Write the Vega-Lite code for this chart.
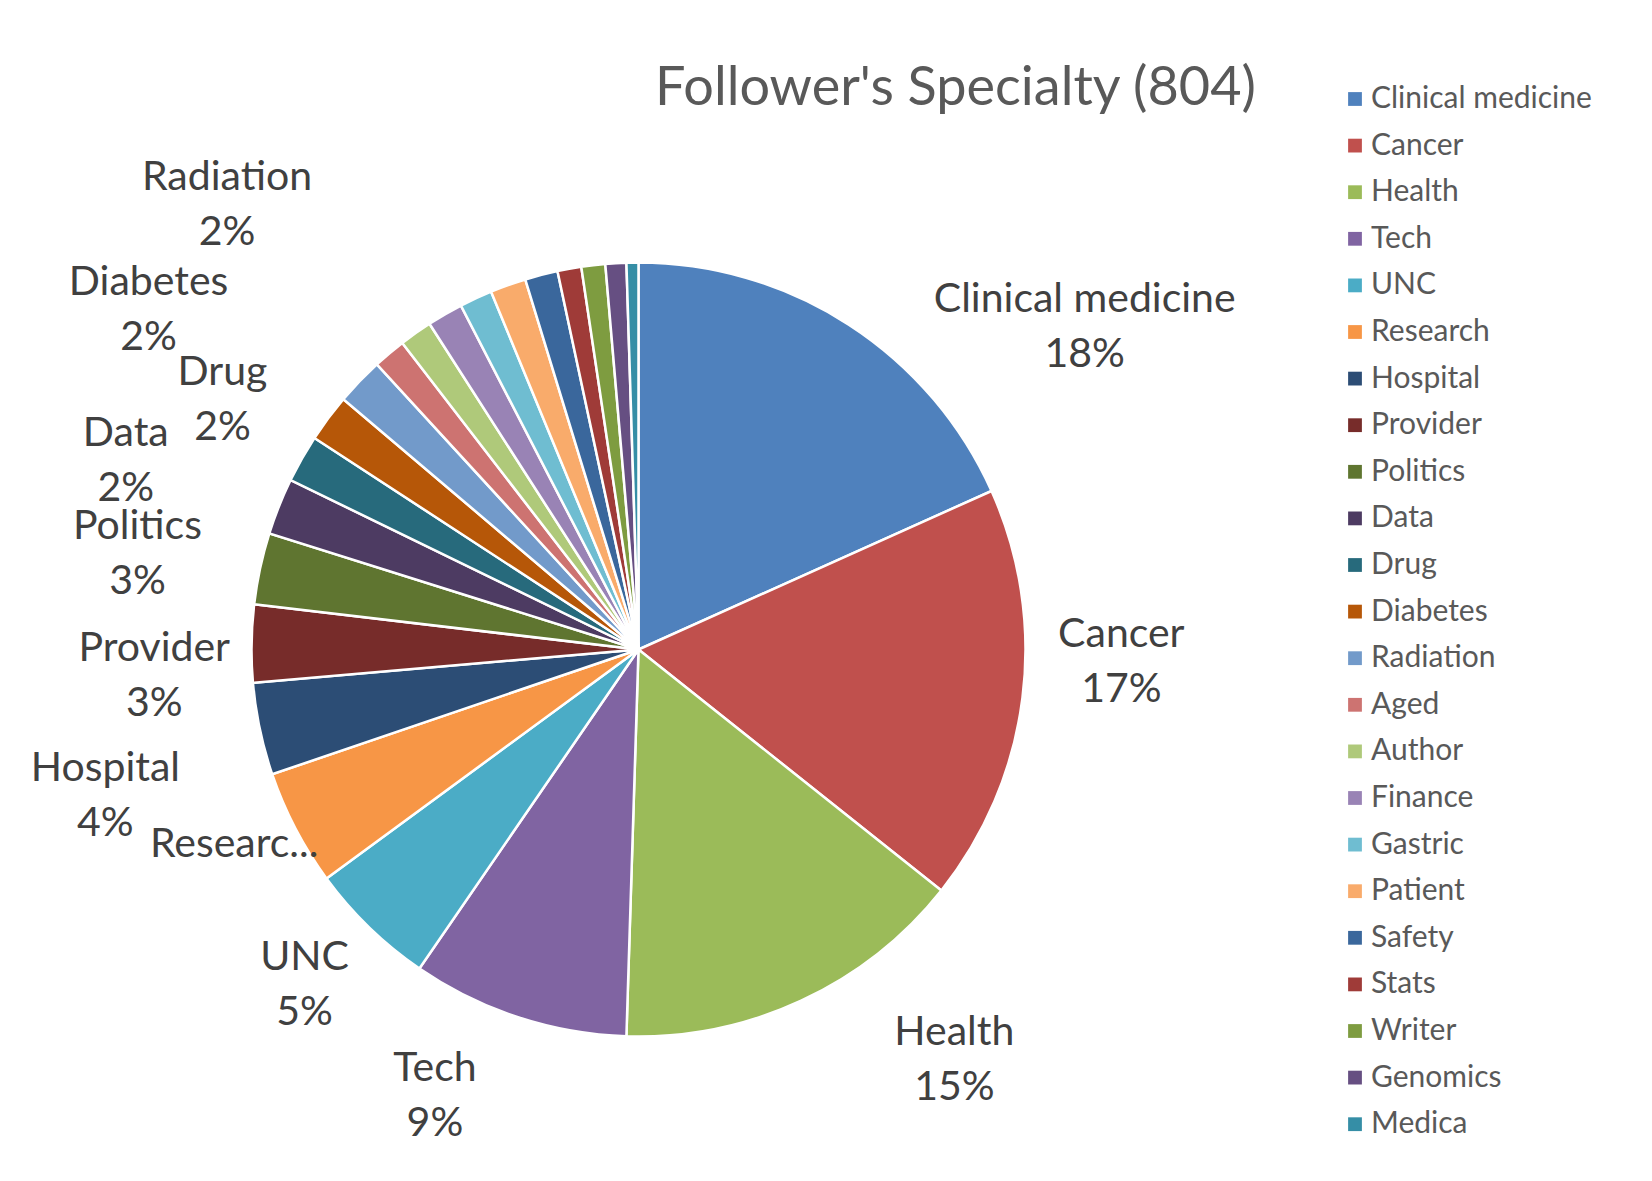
{
  "$schema": "https://vega.github.io/schema/vega-lite/v6.json",
  "width": 1277,
  "height": 1063,
  "autosize": {"type": "none"},
  "padding": {"left": 0, "top": 118, "right": 375, "bottom": 0},
  "background": "white",
  "title": {
    "text": "Follower's Specialty (804)",
    "font": "Lato",
    "fontSize": 54,
    "fontWeight": "normal",
    "color": "#595959",
    "anchor": "middle",
    "frame": "group",
    "dx": 317,
    "dy": 130,
    "offset": 10
  },
  "data": {
    "values": [
      {"category": "Clinical medicine", "count": 147},
      {"category": "Cancer", "count": 140},
      {"category": "Health", "count": 119},
      {"category": "Tech", "count": 73},
      {"category": "UNC", "count": 43},
      {"category": "Research", "count": 39},
      {"category": "Hospital", "count": 31},
      {"category": "Provider", "count": 26},
      {"category": "Politics", "count": 24},
      {"category": "Data", "count": 19},
      {"category": "Drug", "count": 16},
      {"category": "Diabetes", "count": 16},
      {"category": "Radiation", "count": 16},
      {"category": "Aged", "count": 11},
      {"category": "Author", "count": 11},
      {"category": "Finance", "count": 12},
      {"category": "Gastric", "count": 11},
      {"category": "Patient", "count": 12},
      {"category": "Safety", "count": 11},
      {"category": "Stats", "count": 8},
      {"category": "Writer", "count": 8},
      {"category": "Genomics", "count": 7},
      {"category": "Medica", "count": 4}
    ]
  },
  "transform": [
    {"window": [{"op": "row_number", "as": "idx"}]},
    {"joinaggregate": [{"op": "sum", "field": "count", "as": "total"}]},
    {"calculate": "datum.category + '\\n' + format(datum.count / datum.total, '.0%')", "as": "label"},
    {"calculate": "slice(datum.category, 0, 7) + '...'", "as": "short"}
  ],
  "encoding": {
    "theta": {"field": "count", "type": "quantitative", "stack": true},
    "order": {"field": "idx", "type": "quantitative"}
  },
  "layer": [
    {
      "mark": {"type": "arc", "outerRadius": 387, "stroke": "white", "strokeWidth": 2.5},
      "encoding": {
        "color": {
          "field": "category",
          "type": "nominal",
          "scale": {
            "domain": ["Clinical medicine", "Cancer", "Health", "Tech", "UNC", "Research", "Hospital", "Provider", "Politics", "Data", "Drug", "Diabetes", "Radiation", "Aged", "Author", "Finance", "Gastric", "Patient", "Safety", "Stats", "Writer", "Genomics", "Medica"],
            "range": ["#4F81BD", "#C0504D", "#9BBB59", "#8064A2", "#4BACC6", "#F79646", "#2C4D75", "#772C2A", "#5F7530", "#4D3B62", "#276A7C", "#B65708", "#729ACA", "#CD7371", "#AFC97A", "#9983B5", "#6FBDD1", "#F9AB6B", "#3A679C", "#9F3B38", "#7E9C40", "#664F82", "#358EA6"]
          },
          "legend": {
            "orient": "none",
            "legendX": 1340,
            "legendY": -34,
            "title": null,
            "symbolType": "square",
            "symbolSize": 190,
            "symbolStrokeWidth": 0,
            "labelFont": "Lato",
            "labelFontSize": 30,
            "labelColor": "#595959",
            "labelOffset": 1,
            "labelLimit": 400,
            "rowPadding": 16.6,
            "padding": 0
          }
        }
      }
    },
    {
      "mark": {"type": "text", "radius": 550, "thetaOffset": 0.372, "dy": -27.5, "font": "Lato", "fontSize": 41, "lineBreak": "\n", "lineHeight": 55, "align": "center", "baseline": "middle", "color": "#404040"},
      "encoding": {"text": {"condition": {"test": "datum.category === 'Clinical medicine'", "field": "label", "type": "nominal"}, "value": ""}}
    },
    {
      "mark": {"type": "text", "radius": 483, "thetaOffset": -0.099, "dy": -27.5, "font": "Lato", "fontSize": 41, "lineBreak": "\n", "lineHeight": 55, "align": "center", "baseline": "middle", "color": "#404040"},
      "encoding": {"text": {"condition": {"test": "datum.category === 'Cancer'", "field": "label", "type": "nominal"}, "value": ""}}
    },
    {
      "mark": {"type": "text", "radius": 518, "thetaOffset": -0.222, "dy": -27.5, "font": "Lato", "fontSize": 41, "lineBreak": "\n", "lineHeight": 55, "align": "center", "baseline": "middle", "color": "#404040"},
      "encoding": {"text": {"condition": {"test": "datum.category === 'Health'", "field": "label", "type": "nominal"}, "value": ""}}
    },
    {
      "mark": {"type": "text", "radius": 491, "thetaOffset": 0.111, "dy": -27.5, "font": "Lato", "fontSize": 41, "lineBreak": "\n", "lineHeight": 55, "align": "center", "baseline": "middle", "color": "#404040"},
      "encoding": {"text": {"condition": {"test": "datum.category === 'Tech'", "field": "label", "type": "nominal"}, "value": ""}}
    },
    {
      "mark": {"type": "text", "radius": 474, "thetaOffset": 0.012, "dy": -27.5, "font": "Lato", "fontSize": 41, "lineBreak": "\n", "lineHeight": 55, "align": "center", "baseline": "middle", "color": "#404040"},
      "encoding": {"text": {"condition": {"test": "datum.category === 'UNC'", "field": "label", "type": "nominal"}, "value": ""}}
    },
    {
      "mark": {"type": "text", "radius": 553, "thetaOffset": -0.062, "dy": -27.5, "font": "Lato", "fontSize": 41, "lineBreak": "\n", "lineHeight": 55, "align": "center", "baseline": "middle", "color": "#404040"},
      "encoding": {"text": {"condition": {"test": "datum.category === 'Hospital'", "field": "label", "type": "nominal"}, "value": ""}}
    },
    {
      "mark": {"type": "text", "radius": 485, "thetaOffset": -0.071, "dy": -27.5, "font": "Lato", "fontSize": 41, "lineBreak": "\n", "lineHeight": 55, "align": "center", "baseline": "middle", "color": "#404040"},
      "encoding": {"text": {"condition": {"test": "datum.category === 'Provider'", "field": "label", "type": "nominal"}, "value": ""}}
    },
    {
      "mark": {"type": "text", "radius": 510, "thetaOffset": -0.023, "dy": -27.5, "font": "Lato", "fontSize": 41, "lineBreak": "\n", "lineHeight": 55, "align": "center", "baseline": "middle", "color": "#404040"},
      "encoding": {"text": {"condition": {"test": "datum.category === 'Politics'", "field": "label", "type": "nominal"}, "value": ""}}
    },
    {
      "mark": {"type": "text", "radius": 546, "thetaOffset": -0.028, "dy": -27.5, "font": "Lato", "fontSize": 41, "lineBreak": "\n", "lineHeight": 55, "align": "center", "baseline": "middle", "color": "#404040"},
      "encoding": {"text": {"condition": {"test": "datum.category === 'Data'", "field": "label", "type": "nominal"}, "value": ""}}
    },
    {
      "mark": {"type": "text", "radius": 485, "thetaOffset": 0.024, "dy": -27.5, "font": "Lato", "fontSize": 41, "lineBreak": "\n", "lineHeight": 55, "align": "center", "baseline": "middle", "color": "#404040"},
      "encoding": {"text": {"condition": {"test": "datum.category === 'Drug'", "field": "label", "type": "nominal"}, "value": ""}}
    },
    {
      "mark": {"type": "text", "radius": 596, "thetaOffset": -0.035, "dy": -27.5, "font": "Lato", "fontSize": 41, "lineBreak": "\n", "lineHeight": 55, "align": "center", "baseline": "middle", "color": "#404040"},
      "encoding": {"text": {"condition": {"test": "datum.category === 'Diabetes'", "field": "label", "type": "nominal"}, "value": ""}}
    },
    {
      "mark": {"type": "text", "radius": 605, "thetaOffset": 0.057, "dy": -27.5, "font": "Lato", "fontSize": 41, "lineBreak": "\n", "lineHeight": 55, "align": "center", "baseline": "middle", "color": "#404040"},
      "encoding": {"text": {"condition": {"test": "datum.category === 'Radiation'", "field": "label", "type": "nominal"}, "value": ""}}
    },
    {
      "mark": {"type": "text", "radius": 449, "thetaOffset": 0.031, "font": "Lato", "fontSize": 41, "align": "center", "baseline": "middle", "color": "#404040"},
      "encoding": {"text": {"condition": {"test": "datum.category === 'Research'", "field": "short", "type": "nominal"}, "value": ""}}
    }
  ],
  "config": {"view": {"stroke": null}}
}
